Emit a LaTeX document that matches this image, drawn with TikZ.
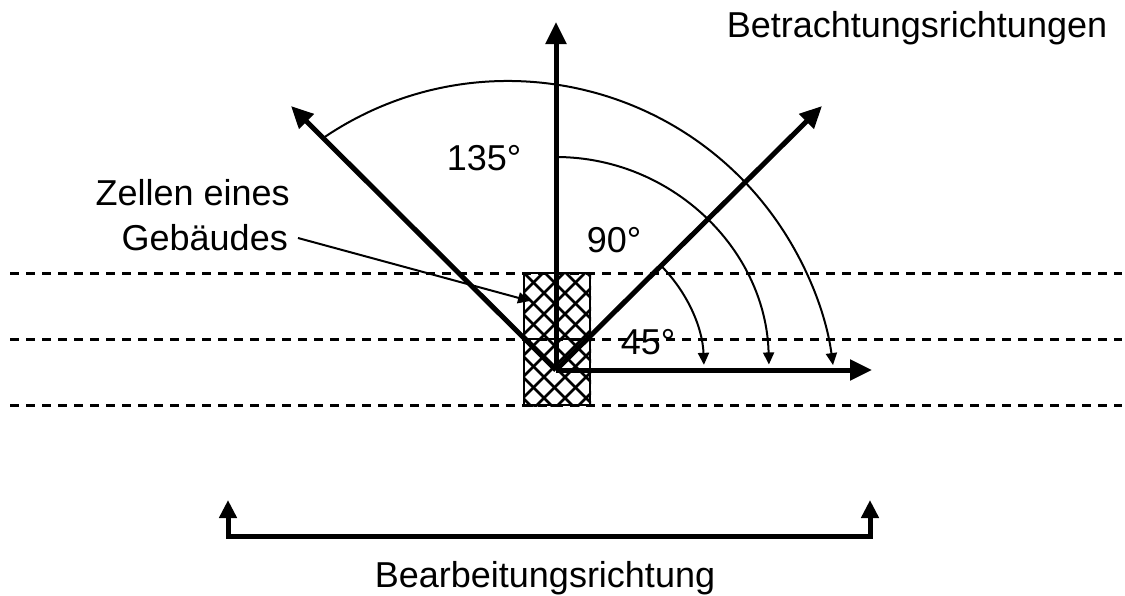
\documentclass[tikz,border=0pt]{standalone}
\usepackage{fontspec}
\setmainfont{Liberation Sans}
\usetikzlibrary{arrows.meta,backgrounds}
\tikzset{
  ray/.style={line width=5pt,-{Triangle[length=22pt,width=20pt]}},
  angarc/.style={line width=2pt,-{Triangle[length=12pt,width=11pt]}},
  leader/.style={line width=2pt,-{Triangle[length=12pt,width=11pt]}},
  span/.style={line width=5pt,{Triangle[length=18pt,width=17pt]}-{Triangle[length=18pt,width=17pt]}},
  gridline/.style={line width=3pt,dash pattern=on 9pt off 7pt},
  cell/.style={draw,line width=2pt,minimum width=66pt,minimum height=66pt,inner sep=0pt},
  hatch/.style={line width=2.5pt},
  lbl/.style={font=\fontsize{36}{40}\selectfont,inner sep=0pt},
}

\begin{document}
\begin{tikzpicture}[x=1pt,y=-1pt]
  \useasboundingbox (0,0) rectangle (1125,595);

  % two cells of the building
  \node[cell] (cellA) at (557,306) {};
  \node[cell] (cellB) at (557,372) {};
  \begin{scope}[on background layer]
    \clip (cellA.north west) rectangle (cellB.south east);
    \foreach \k in {-8,...,11}{
      \draw[hatch] (cellA.north west) ++(\k*21-80,-80) -- ++(300,300);
      \draw[hatch] (cellA.north west) ++(\k*21+80,-80) -- ++(-300,300);
    }
  \end{scope}

  % dashed rows
  \foreach \y in {273,339,405}{
    \draw[gridline] (10,\y) -- (1122,\y);
  }

  % viewing directions
  \coordinate (O) at (556,370);
  \coordinate (tipN) at (556,22);
  \coordinate (tipNE) at (822,106);
  \coordinate (tipNW) at (291,106);
  \coordinate (tipE) at (872,370);
  \draw[ray] (O) -- (tipN);
  \draw[ray] (O) -- (tipNE);
  \draw[ray] (O) -- (tipNW);
  \draw[ray] (O) -- (tipE);

  % angle arcs
  \draw[angarc] (O) ++(-45:148) arc[start angle=-45,end angle=-2,radius=148];
  \draw[angarc] (O) ++(-90:213) arc[start angle=-90,end angle=-1.5,radius=213];
  \coordinate (C) at (508,409);
  \draw[angarc] (C) ++(-124:328) arc[start angle=-124,end angle=-7.7,radius=328];

  % labels
  \node[lbl] (viewlbl) at (917,28) {Betrachtungsrichtungen};
  \node[lbl] (a135) at (484,158) {135°};
  \node[lbl] (a90) at (614,240) {90°};
  \node[lbl] (a45) at (648,342) {45°};
  \node[lbl,anchor=east] (cellsA) at (290,193) {Zellen eines};
  \node[lbl,anchor=east] (cellsB) at (288,238) {Gebäudes};
  \coordinate (cellpt) at (530,301);
  \draw[leader] ([xshift=10pt]cellsB.east) -- (cellpt);

  % processing direction
  \coordinate (spanL) at (228,500);
  \coordinate (spanR) at (870,500);
  \coordinate (spanRc) at (870,536);
  \draw[span] (spanL) |- (spanRc) -- (spanR);
  \node[lbl] (proclbl) at (545,578) {Bearbeitungsrichtung};
\end{tikzpicture}
\end{document}
